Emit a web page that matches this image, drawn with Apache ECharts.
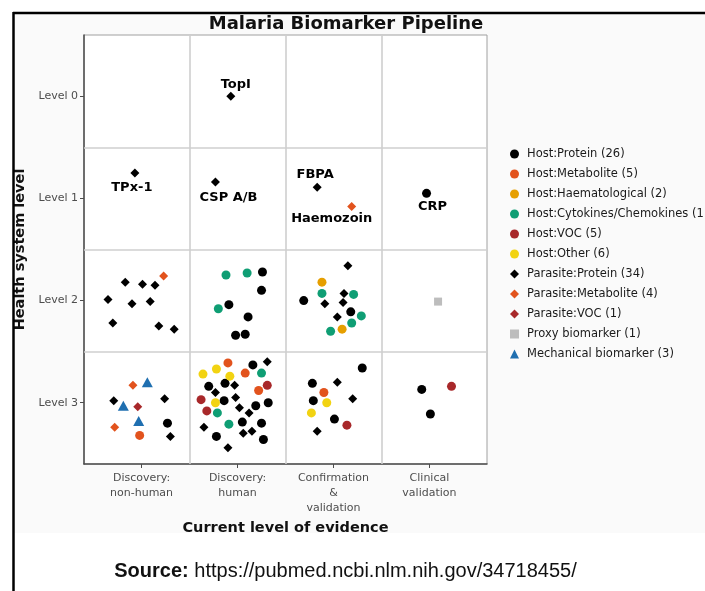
<!DOCTYPE html>
<html><head><meta charset="utf-8">
<script src="https://cdn.jsdelivr.net/npm/echarts@6/dist/echarts.min.js"></script>
<style>html,body{margin:0;padding:0;background:#fff}#c{width:705px;height:591px}</style>
</head><body><div id="c"></div>
<script>
// ---- data ----
const title = 'Malaria Biomarker Pipeline';
const categories = ['Discovery:\nnon-human', 'Discovery:\nhuman', 'Confirmation\n&\nvalidation', 'Clinical\nvalidation'];
const levels = ['Level 0', 'Level 1', 'Level 2', 'Level 3'];
const categoryTicks = [0, 1, 2, 3];
const cellBounds = [0.5, 1.5, 2.5];
const xTitle = 'Current level of evidence';
const yTitle = 'Health system level';
const sourceLabel = 'Source:';
const sourceUrl = 'https://pubmed.ncbi.nlm.nih.gov/34718455/';

// each point: [evidence position (category index + jitter), level (index + jitter), optional name]
const hostProtein = [
  [2.97, 0.95, 'CRP'],
  [1.26, 1.72], [1.25, 1.90], [0.91, 2.04], [1.11, 2.16], [0.98, 2.34], [1.08, 2.33],
  [1.69, 2.00], [2.18, 2.11],
  [0.27, 3.20],
  [1.16, 2.63], [0.70, 2.84], [0.87, 2.81], [0.86, 2.98], [1.19, 3.03], [1.32, 3.00],
  [1.05, 3.19], [1.25, 3.20], [0.78, 3.33], [1.27, 3.36],
  [2.30, 2.66], [1.78, 2.81], [1.79, 2.98], [2.01, 3.16],
  [2.92, 2.87], [3.01, 3.11]
];
const hostMetabolite = [[-0.02, 3.32], [0.90, 2.61], [1.08, 2.71], [1.22, 2.88], [1.90, 2.90]];
const hostHaematological = [[1.88, 1.82], [2.09, 2.28]];
const hostCytokines = [
  [0.88, 1.75], [1.10, 1.73], [0.80, 2.08],
  [1.88, 1.93], [2.21, 1.94], [2.29, 2.15], [2.19, 2.22], [1.97, 2.30],
  [1.25, 2.71], [0.79, 3.10], [0.91, 3.21]
];
const hostVOC = [[1.31, 2.83], [0.62, 2.97], [0.68, 3.08], [2.14, 3.22], [3.23, 2.84]];
const hostOther = [[0.64, 2.72], [0.78, 2.67], [0.92, 2.74], [0.77, 3.00], [1.93, 3.00], [1.77, 3.10]];
const parasiteProtein = [
  [0.93, 0.00, 'TopI'],
  [-0.07, 0.75, 'TPx-1'], [0.77, 0.84, 'CSP A/B'], [1.83, 0.89, 'FBPA'],
  [-0.17, 1.82], [0.01, 1.84], [0.14, 1.85], [-0.35, 1.99], [-0.10, 2.03], [0.09, 2.01],
  [-0.30, 2.22], [0.18, 2.25], [0.34, 2.28],
  [2.15, 1.66], [2.11, 1.93], [1.91, 2.03], [2.10, 2.02], [2.04, 2.16],
  [-0.29, 2.98], [0.24, 2.96], [0.30, 3.33],
  [1.31, 2.60], [0.97, 2.83], [0.77, 2.90], [0.98, 2.95], [1.02, 3.05], [1.12, 3.10],
  [0.65, 3.24], [1.06, 3.30], [1.15, 3.28], [0.90, 3.44],
  [2.04, 2.80], [2.20, 2.96], [1.83, 3.28]
];
const parasiteMetabolite = [[0.23, 1.76], [2.19, 1.08, 'Haemozoin'], [-0.09, 2.83], [-0.28, 3.24]];
const parasiteVOC = [[-0.04, 3.04]];
const proxyBiomarker = [[3.09, 2.01]];
const mechanicalBiomarker = [[0.06, 2.80], [-0.19, 3.03], [-0.03, 3.18]];

const groups = [
  ['Host:Protein (26)', hostProtein],
  ['Host:Metabolite (5)', hostMetabolite],
  ['Host:Haematological (2)', hostHaematological],
  ['Host:Cytokines/Chemokines (11)', hostCytokines],
  ['Host:VOC (5)', hostVOC],
  ['Host:Other (6)', hostOther],
  ['Parasite:Protein (34)', parasiteProtein],
  ['Parasite:Metabolite (4)', parasiteMetabolite],
  ['Parasite:VOC (1)', parasiteVOC],
  ['Proxy biomarker (1)', proxyBiomarker],
  ['Mechanical biomarker (3)', mechanicalBiomarker]
];

// ---- styles ----
const styles = [
  {color: '#000000', symbol: 'circle', size: 9},
  {color: '#E2531D', symbol: 'circle', size: 9},
  {color: '#E69F00', symbol: 'circle', size: 9},
  {color: '#0F9E74', symbol: 'circle', size: 9},
  {color: '#A8282A', symbol: 'circle', size: 9},
  {color: '#F2D312', symbol: 'circle', size: 9},
  {color: '#000000', symbol: 'diamond', size: 9},
  {color: '#E2531D', symbol: 'diamond', size: 9},
  {color: '#A8282A', symbol: 'diamond', size: 9},
  {color: '#BDBDBD', symbol: 'rect', size: 8},
  {color: '#1F6FB0', symbol: 'triangle', size: [11, 10]}
];
const labelOffsets = {
  'TopI': [5, -12], 'TPx-1': [-3, 15], 'CSP A/B': [13, 16], 'FBPA': [-2, -13],
  'Haemozoin': [-20, 12], 'CRP': [6, 13]
};
const FONT = 'DejaVu Sans';

const series = groups.map(([name, pts], i) => {
  const st = styles[i];
  return {
    name, type: 'scatter', symbol: st.symbol, symbolSize: st.size,
    itemStyle: {color: st.color, opacity: 1},
    emphasis: {disabled: true}, silent: true, z: 3,
    data: pts.map(p => p[2] ? {
      value: [p[0], p[1]],
      label: {show: true, formatter: p[2], position: 'inside', offset: labelOffsets[p[2]],
        color: '#000', fontWeight: 'bold', fontSize: 13, fontFamily: FONT}
    } : [p[0], p[1]])
  };
});
series.push({
  name: '__grid', type: 'scatter', data: [], silent: true,
  markLine: {
    silent: true, symbol: 'none', z: 1, animation: false,
    label: {show: false},
    lineStyle: {color: '#cfcfcf', width: 1.6, type: 'solid'},
    emphasis: {disabled: true},
    data: cellBounds.map(v => ({xAxis: v})).concat(cellBounds.map(v => ({yAxis: v})))
  }
});

const chart = echarts.init(document.getElementById('c'), null, {renderer: 'canvas'});
chart.setOption({
  animation: false,
  backgroundColor: '#ffffff',
  textStyle: {fontFamily: FONT},
  title: {
    text: title, left: 341, top: 10, textAlign: 'center',
    textStyle: {fontFamily: FONT, fontWeight: 'bold', fontSize: 18, color: '#111'}
  },
  grid: {
    left: 84, top: 35, width: 403, height: 429, show: true,
    backgroundColor: '#ffffff', borderColor: '#a0a0a0', borderWidth: 1
  },
  legend: {
    orient: 'vertical', left: 505, top: 143,
    data: groups.map(g => g[0]),
    itemWidth: 9, itemHeight: 9, itemGap: 8,
    selectedMode: false,
    textStyle: {fontFamily: FONT, fontSize: 11.5, color: '#1a1a1a', lineHeight: 12, padding: [0, 0, 0, 3]}
  },
  xAxis: {
    type: 'value', min: -0.6, max: 3.6,
    axisLine: {show: true, onZero: false, lineStyle: {color: '#4d4d4d', width: 1.5}},
    axisTick: {show: true, customValues: categoryTicks, length: 4, lineStyle: {color: '#4d4d4d'}},
    axisLabel: {customValues: categoryTicks, formatter: v => categories[Math.round(v)],
      color: '#4d4d4d', fontSize: 11, lineHeight: 15, margin: 7, fontFamily: FONT},
    splitLine: {show: false},
    name: xTitle, nameLocation: 'middle', nameGap: 56,
    nameTextStyle: {fontFamily: FONT, fontWeight: 'bold', fontSize: 14.5, color: '#111'}
  },
  yAxis: {
    type: 'value', min: -0.6, max: 3.6, inverse: true,
    axisLine: {show: true, onZero: false, lineStyle: {color: '#4d4d4d', width: 1.5}},
    axisTick: {show: true, customValues: categoryTicks, length: 4, lineStyle: {color: '#4d4d4d'}},
    axisLabel: {customValues: categoryTicks, formatter: v => levels[Math.round(v)],
      color: '#4d4d4d', fontSize: 11, margin: 6, fontFamily: FONT},
    splitLine: {show: false},
    name: yTitle, nameLocation: 'middle', nameGap: 53, nameRotate: 90,
    nameTextStyle: {fontFamily: FONT, fontWeight: 'bold', fontSize: 14.5, color: '#111'}
  },
  graphic: [
    {type: 'rect', z: -100, silent: true, shape: {x: 14, y: 13, width: 691, height: 520}, style: {fill: '#fafafa'}},
    {type: 'line', z: 100, silent: true, shape: {x1: 13, y1: 13, x2: 705, y2: 13}, style: {stroke: '#000', lineWidth: 2.5}},
    {type: 'line', z: 100, silent: true, shape: {x1: 13.5, y1: 12, x2: 13.5, y2: 591}, style: {stroke: '#000', lineWidth: 2.5}},
    {type: 'text', z: 100, silent: true, x: 345.5, y: 571,
      style: {text: '{b|' + sourceLabel + '} ' + sourceUrl, align: 'center', verticalAlign: 'middle',
        fontFamily: 'Liberation Sans', fontSize: 20, fill: '#111',
        rich: {b: {fontWeight: 'bold', fontFamily: 'Liberation Sans', fontSize: 20, fill: '#111'}}}}
  ],
  series
});
</script></body></html>
